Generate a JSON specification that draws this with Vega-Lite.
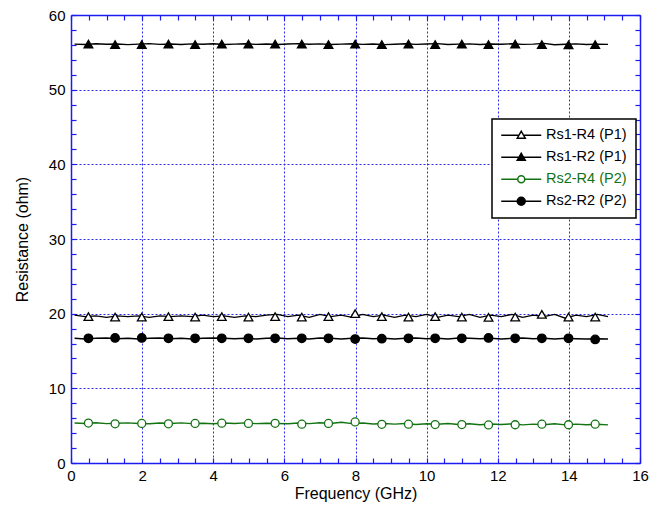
{
  "$schema": "https://vega.github.io/schema/vega-lite/v6.json",
  "width": 569,
  "height": 448,
  "autosize": {"type": "none"},
  "padding": {"left": 71, "top": 15, "right": 27, "bottom": 52},
  "background": "#ffffff",
  "config": {
    "view": {"stroke": null},
    "font": "Liberation Sans",
    "axis": {
      "labelFont": "Liberation Sans",
      "titleFont": "Liberation Sans",
      "labelFontSize": 15,
      "titleFontSize": 16,
      "titleFontWeight": "normal",
      "labelColor": "#000000",
      "titleColor": "#000000",
      "domainColor": "#1c1cf0",
      "domainWidth": 1.5,
      "tickColor": "#1c1cf0",
      "tickWidth": 1.2,
      "tickSize": -5,
      "labelFlush": false,
      "labelOverlap": false
    }
  },
  "datasets": {
    "lines": [
      {"series": "Rs1-R4 (P1)", "freq": 0.1, "res": 19.8},
      {"series": "Rs1-R4 (P1)", "freq": 0.4, "res": 19.6},
      {"series": "Rs1-R4 (P1)", "freq": 0.7, "res": 19.7},
      {"series": "Rs1-R4 (P1)", "freq": 1.0, "res": 19.5},
      {"series": "Rs1-R4 (P1)", "freq": 1.3, "res": 19.7},
      {"series": "Rs1-R4 (P1)", "freq": 1.6, "res": 19.6},
      {"series": "Rs1-R4 (P1)", "freq": 1.9, "res": 19.7},
      {"series": "Rs1-R4 (P1)", "freq": 2.2, "res": 19.5},
      {"series": "Rs1-R4 (P1)", "freq": 2.5, "res": 19.7},
      {"series": "Rs1-R4 (P1)", "freq": 2.8, "res": 19.6},
      {"series": "Rs1-R4 (P1)", "freq": 3.1, "res": 19.7},
      {"series": "Rs1-R4 (P1)", "freq": 3.4, "res": 19.6},
      {"series": "Rs1-R4 (P1)", "freq": 3.7, "res": 19.8},
      {"series": "Rs1-R4 (P1)", "freq": 4.0, "res": 19.6},
      {"series": "Rs1-R4 (P1)", "freq": 4.3, "res": 19.7},
      {"series": "Rs1-R4 (P1)", "freq": 4.6, "res": 19.5},
      {"series": "Rs1-R4 (P1)", "freq": 4.9, "res": 19.7},
      {"series": "Rs1-R4 (P1)", "freq": 5.2, "res": 19.6},
      {"series": "Rs1-R4 (P1)", "freq": 5.5, "res": 19.8},
      {"series": "Rs1-R4 (P1)", "freq": 5.8, "res": 19.9},
      {"series": "Rs1-R4 (P1)", "freq": 6.1, "res": 19.6},
      {"series": "Rs1-R4 (P1)", "freq": 6.4, "res": 19.8},
      {"series": "Rs1-R4 (P1)", "freq": 6.7, "res": 19.5},
      {"series": "Rs1-R4 (P1)", "freq": 7.0, "res": 19.9},
      {"series": "Rs1-R4 (P1)", "freq": 7.3, "res": 19.6},
      {"series": "Rs1-R4 (P1)", "freq": 7.6, "res": 19.8},
      {"series": "Rs1-R4 (P1)", "freq": 7.9, "res": 19.5},
      {"series": "Rs1-R4 (P1)", "freq": 8.2, "res": 19.9},
      {"series": "Rs1-R4 (P1)", "freq": 8.5, "res": 19.6},
      {"series": "Rs1-R4 (P1)", "freq": 8.8, "res": 19.8},
      {"series": "Rs1-R4 (P1)", "freq": 9.1, "res": 19.5},
      {"series": "Rs1-R4 (P1)", "freq": 9.4, "res": 19.8},
      {"series": "Rs1-R4 (P1)", "freq": 9.7, "res": 19.6},
      {"series": "Rs1-R4 (P1)", "freq": 10.0, "res": 19.9},
      {"series": "Rs1-R4 (P1)", "freq": 10.3, "res": 19.5},
      {"series": "Rs1-R4 (P1)", "freq": 10.6, "res": 19.8},
      {"series": "Rs1-R4 (P1)", "freq": 10.9, "res": 19.6},
      {"series": "Rs1-R4 (P1)", "freq": 11.2, "res": 19.9},
      {"series": "Rs1-R4 (P1)", "freq": 11.5, "res": 19.5},
      {"series": "Rs1-R4 (P1)", "freq": 11.8, "res": 19.8},
      {"series": "Rs1-R4 (P1)", "freq": 12.1, "res": 19.6},
      {"series": "Rs1-R4 (P1)", "freq": 12.4, "res": 19.9},
      {"series": "Rs1-R4 (P1)", "freq": 12.7, "res": 19.5},
      {"series": "Rs1-R4 (P1)", "freq": 13.0, "res": 19.8},
      {"series": "Rs1-R4 (P1)", "freq": 13.3, "res": 19.6},
      {"series": "Rs1-R4 (P1)", "freq": 13.6, "res": 19.9},
      {"series": "Rs1-R4 (P1)", "freq": 13.9, "res": 19.4},
      {"series": "Rs1-R4 (P1)", "freq": 14.2, "res": 19.8},
      {"series": "Rs1-R4 (P1)", "freq": 14.5, "res": 19.6},
      {"series": "Rs1-R4 (P1)", "freq": 14.8, "res": 19.9},
      {"series": "Rs1-R4 (P1)", "freq": 15.1, "res": 19.6},
      {"series": "Rs1-R2 (P1)", "freq": 0.1, "res": 56.1},
      {"series": "Rs1-R2 (P1)", "freq": 0.4, "res": 56.05},
      {"series": "Rs1-R2 (P1)", "freq": 0.7, "res": 56.15},
      {"series": "Rs1-R2 (P1)", "freq": 1.0, "res": 56.08},
      {"series": "Rs1-R2 (P1)", "freq": 1.3, "res": 56.12},
      {"series": "Rs1-R2 (P1)", "freq": 1.6, "res": 56.03},
      {"series": "Rs1-R2 (P1)", "freq": 1.9, "res": 56.1},
      {"series": "Rs1-R2 (P1)", "freq": 2.2, "res": 56.16},
      {"series": "Rs1-R2 (P1)", "freq": 2.5, "res": 56.06},
      {"series": "Rs1-R2 (P1)", "freq": 2.8, "res": 56.11},
      {"series": "Rs1-R2 (P1)", "freq": 3.1, "res": 56.04},
      {"series": "Rs1-R2 (P1)", "freq": 3.4, "res": 56.13},
      {"series": "Rs1-R2 (P1)", "freq": 3.7, "res": 56.09},
      {"series": "Rs1-R2 (P1)", "freq": 4.0, "res": 56.15},
      {"series": "Rs1-R2 (P1)", "freq": 4.3, "res": 56.05},
      {"series": "Rs1-R2 (P1)", "freq": 4.6, "res": 56.1},
      {"series": "Rs1-R2 (P1)", "freq": 4.9, "res": 56.14},
      {"series": "Rs1-R2 (P1)", "freq": 5.2, "res": 56.07},
      {"series": "Rs1-R2 (P1)", "freq": 5.5, "res": 56.12},
      {"series": "Rs1-R2 (P1)", "freq": 5.8, "res": 56.04},
      {"series": "Rs1-R2 (P1)", "freq": 6.1, "res": 56.11},
      {"series": "Rs1-R2 (P1)", "freq": 6.4, "res": 56.16},
      {"series": "Rs1-R2 (P1)", "freq": 6.7, "res": 56.08},
      {"series": "Rs1-R2 (P1)", "freq": 7.0, "res": 56.13},
      {"series": "Rs1-R2 (P1)", "freq": 7.3, "res": 56.05},
      {"series": "Rs1-R2 (P1)", "freq": 7.6, "res": 56.1},
      {"series": "Rs1-R2 (P1)", "freq": 7.9, "res": 56.15},
      {"series": "Rs1-R2 (P1)", "freq": 8.2, "res": 56.07},
      {"series": "Rs1-R2 (P1)", "freq": 8.5, "res": 56.12},
      {"series": "Rs1-R2 (P1)", "freq": 8.8, "res": 56.03},
      {"series": "Rs1-R2 (P1)", "freq": 9.1, "res": 56.09},
      {"series": "Rs1-R2 (P1)", "freq": 9.4, "res": 56.14},
      {"series": "Rs1-R2 (P1)", "freq": 9.7, "res": 56.06},
      {"series": "Rs1-R2 (P1)", "freq": 10.0, "res": 56.11},
      {"series": "Rs1-R2 (P1)", "freq": 10.3, "res": 56.17},
      {"series": "Rs1-R2 (P1)", "freq": 10.6, "res": 56.05},
      {"series": "Rs1-R2 (P1)", "freq": 10.9, "res": 56.1},
      {"series": "Rs1-R2 (P1)", "freq": 11.2, "res": 56.13},
      {"series": "Rs1-R2 (P1)", "freq": 11.5, "res": 56.04},
      {"series": "Rs1-R2 (P1)", "freq": 11.8, "res": 56.12},
      {"series": "Rs1-R2 (P1)", "freq": 12.1, "res": 56.08},
      {"series": "Rs1-R2 (P1)", "freq": 12.4, "res": 56.15},
      {"series": "Rs1-R2 (P1)", "freq": 12.7, "res": 56.06},
      {"series": "Rs1-R2 (P1)", "freq": 13.0, "res": 56.1},
      {"series": "Rs1-R2 (P1)", "freq": 13.3, "res": 56.2},
      {"series": "Rs1-R2 (P1)", "freq": 13.6, "res": 56.02},
      {"series": "Rs1-R2 (P1)", "freq": 13.9, "res": 56.08},
      {"series": "Rs1-R2 (P1)", "freq": 14.2, "res": 56.13},
      {"series": "Rs1-R2 (P1)", "freq": 14.5, "res": 56.05},
      {"series": "Rs1-R2 (P1)", "freq": 14.8, "res": 56.1},
      {"series": "Rs1-R2 (P1)", "freq": 15.1, "res": 56.06},
      {"series": "Rs2-R4 (P2)", "freq": 0.1, "res": 5.35},
      {"series": "Rs2-R4 (P2)", "freq": 0.4, "res": 5.3},
      {"series": "Rs2-R4 (P2)", "freq": 0.7, "res": 5.4},
      {"series": "Rs2-R4 (P2)", "freq": 1.0, "res": 5.28},
      {"series": "Rs2-R4 (P2)", "freq": 1.3, "res": 5.33},
      {"series": "Rs2-R4 (P2)", "freq": 1.6, "res": 5.38},
      {"series": "Rs2-R4 (P2)", "freq": 1.9, "res": 5.3},
      {"series": "Rs2-R4 (P2)", "freq": 2.2, "res": 5.25},
      {"series": "Rs2-R4 (P2)", "freq": 2.5, "res": 5.35},
      {"series": "Rs2-R4 (P2)", "freq": 2.8, "res": 5.3},
      {"series": "Rs2-R4 (P2)", "freq": 3.1, "res": 5.38},
      {"series": "Rs2-R4 (P2)", "freq": 3.4, "res": 5.28},
      {"series": "Rs2-R4 (P2)", "freq": 3.7, "res": 5.33},
      {"series": "Rs2-R4 (P2)", "freq": 4.0, "res": 5.25},
      {"series": "Rs2-R4 (P2)", "freq": 4.3, "res": 5.35},
      {"series": "Rs2-R4 (P2)", "freq": 4.6, "res": 5.3},
      {"series": "Rs2-R4 (P2)", "freq": 4.9, "res": 5.38},
      {"series": "Rs2-R4 (P2)", "freq": 5.2, "res": 5.27},
      {"series": "Rs2-R4 (P2)", "freq": 5.5, "res": 5.33},
      {"series": "Rs2-R4 (P2)", "freq": 5.8, "res": 5.3},
      {"series": "Rs2-R4 (P2)", "freq": 6.1, "res": 5.25},
      {"series": "Rs2-R4 (P2)", "freq": 6.4, "res": 5.35},
      {"series": "Rs2-R4 (P2)", "freq": 6.7, "res": 5.28},
      {"series": "Rs2-R4 (P2)", "freq": 7.0, "res": 5.4},
      {"series": "Rs2-R4 (P2)", "freq": 7.3, "res": 5.3},
      {"series": "Rs2-R4 (P2)", "freq": 7.6, "res": 5.45},
      {"series": "Rs2-R4 (P2)", "freq": 7.9, "res": 5.28},
      {"series": "Rs2-R4 (P2)", "freq": 8.2, "res": 5.35},
      {"series": "Rs2-R4 (P2)", "freq": 8.5, "res": 5.22},
      {"series": "Rs2-R4 (P2)", "freq": 8.8, "res": 5.3},
      {"series": "Rs2-R4 (P2)", "freq": 9.1, "res": 5.2},
      {"series": "Rs2-R4 (P2)", "freq": 9.4, "res": 5.3},
      {"series": "Rs2-R4 (P2)", "freq": 9.7, "res": 5.15},
      {"series": "Rs2-R4 (P2)", "freq": 10.0, "res": 5.25},
      {"series": "Rs2-R4 (P2)", "freq": 10.3, "res": 5.18},
      {"series": "Rs2-R4 (P2)", "freq": 10.6, "res": 5.28},
      {"series": "Rs2-R4 (P2)", "freq": 10.9, "res": 5.15},
      {"series": "Rs2-R4 (P2)", "freq": 11.2, "res": 5.25},
      {"series": "Rs2-R4 (P2)", "freq": 11.5, "res": 5.12},
      {"series": "Rs2-R4 (P2)", "freq": 11.8, "res": 5.22},
      {"series": "Rs2-R4 (P2)", "freq": 12.1, "res": 5.15},
      {"series": "Rs2-R4 (P2)", "freq": 12.4, "res": 5.25},
      {"series": "Rs2-R4 (P2)", "freq": 12.7, "res": 5.1},
      {"series": "Rs2-R4 (P2)", "freq": 13.0, "res": 5.2},
      {"series": "Rs2-R4 (P2)", "freq": 13.3, "res": 5.12},
      {"series": "Rs2-R4 (P2)", "freq": 13.6, "res": 5.25},
      {"series": "Rs2-R4 (P2)", "freq": 13.9, "res": 5.1},
      {"series": "Rs2-R4 (P2)", "freq": 14.2, "res": 5.2},
      {"series": "Rs2-R4 (P2)", "freq": 14.5, "res": 5.12},
      {"series": "Rs2-R4 (P2)", "freq": 14.8, "res": 5.18},
      {"series": "Rs2-R4 (P2)", "freq": 15.1, "res": 5.1},
      {"series": "Rs2-R2 (P2)", "freq": 0.1, "res": 16.7},
      {"series": "Rs2-R2 (P2)", "freq": 0.4, "res": 16.6},
      {"series": "Rs2-R2 (P2)", "freq": 0.7, "res": 16.7},
      {"series": "Rs2-R2 (P2)", "freq": 1.0, "res": 16.75},
      {"series": "Rs2-R2 (P2)", "freq": 1.3, "res": 16.65},
      {"series": "Rs2-R2 (P2)", "freq": 1.6, "res": 16.7},
      {"series": "Rs2-R2 (P2)", "freq": 1.9, "res": 16.6},
      {"series": "Rs2-R2 (P2)", "freq": 2.2, "res": 16.7},
      {"series": "Rs2-R2 (P2)", "freq": 2.5, "res": 16.75},
      {"series": "Rs2-R2 (P2)", "freq": 2.8, "res": 16.65},
      {"series": "Rs2-R2 (P2)", "freq": 3.1, "res": 16.7},
      {"series": "Rs2-R2 (P2)", "freq": 3.4, "res": 16.6},
      {"series": "Rs2-R2 (P2)", "freq": 3.7, "res": 16.7},
      {"series": "Rs2-R2 (P2)", "freq": 4.0, "res": 16.75},
      {"series": "Rs2-R2 (P2)", "freq": 4.3, "res": 16.7},
      {"series": "Rs2-R2 (P2)", "freq": 4.6, "res": 16.65},
      {"series": "Rs2-R2 (P2)", "freq": 4.9, "res": 16.7},
      {"series": "Rs2-R2 (P2)", "freq": 5.2, "res": 16.6},
      {"series": "Rs2-R2 (P2)", "freq": 5.5, "res": 16.7},
      {"series": "Rs2-R2 (P2)", "freq": 5.8, "res": 16.75},
      {"series": "Rs2-R2 (P2)", "freq": 6.1, "res": 16.65},
      {"series": "Rs2-R2 (P2)", "freq": 6.4, "res": 16.7},
      {"series": "Rs2-R2 (P2)", "freq": 6.7, "res": 16.6},
      {"series": "Rs2-R2 (P2)", "freq": 7.0, "res": 16.75},
      {"series": "Rs2-R2 (P2)", "freq": 7.3, "res": 16.7},
      {"series": "Rs2-R2 (P2)", "freq": 7.6, "res": 16.6},
      {"series": "Rs2-R2 (P2)", "freq": 7.9, "res": 16.7},
      {"series": "Rs2-R2 (P2)", "freq": 8.2, "res": 16.75},
      {"series": "Rs2-R2 (P2)", "freq": 8.5, "res": 16.65},
      {"series": "Rs2-R2 (P2)", "freq": 8.8, "res": 16.7},
      {"series": "Rs2-R2 (P2)", "freq": 9.1, "res": 16.6},
      {"series": "Rs2-R2 (P2)", "freq": 9.4, "res": 16.7},
      {"series": "Rs2-R2 (P2)", "freq": 9.7, "res": 16.75},
      {"series": "Rs2-R2 (P2)", "freq": 10.0, "res": 16.65},
      {"series": "Rs2-R2 (P2)", "freq": 10.3, "res": 16.7},
      {"series": "Rs2-R2 (P2)", "freq": 10.6, "res": 16.6},
      {"series": "Rs2-R2 (P2)", "freq": 10.9, "res": 16.75},
      {"series": "Rs2-R2 (P2)", "freq": 11.2, "res": 16.7},
      {"series": "Rs2-R2 (P2)", "freq": 11.5, "res": 16.65},
      {"series": "Rs2-R2 (P2)", "freq": 11.8, "res": 16.7},
      {"series": "Rs2-R2 (P2)", "freq": 12.1, "res": 16.6},
      {"series": "Rs2-R2 (P2)", "freq": 12.4, "res": 16.7},
      {"series": "Rs2-R2 (P2)", "freq": 12.7, "res": 16.75},
      {"series": "Rs2-R2 (P2)", "freq": 13.0, "res": 16.65},
      {"series": "Rs2-R2 (P2)", "freq": 13.3, "res": 16.7},
      {"series": "Rs2-R2 (P2)", "freq": 13.6, "res": 16.6},
      {"series": "Rs2-R2 (P2)", "freq": 13.9, "res": 16.7},
      {"series": "Rs2-R2 (P2)", "freq": 14.2, "res": 16.65},
      {"series": "Rs2-R2 (P2)", "freq": 14.5, "res": 16.6},
      {"series": "Rs2-R2 (P2)", "freq": 14.8, "res": 16.65},
      {"series": "Rs2-R2 (P2)", "freq": 15.1, "res": 16.6}
    ],
    "markers": [
      {"series": "Rs1-R4 (P1)", "freq": 0.49, "res": 19.6},
      {"series": "Rs1-R4 (P1)", "freq": 1.24, "res": 19.55},
      {"series": "Rs1-R4 (P1)", "freq": 1.99, "res": 19.55},
      {"series": "Rs1-R4 (P1)", "freq": 2.74, "res": 19.6},
      {"series": "Rs1-R4 (P1)", "freq": 3.49, "res": 19.55},
      {"series": "Rs1-R4 (P1)", "freq": 4.24, "res": 19.6},
      {"series": "Rs1-R4 (P1)", "freq": 4.99, "res": 19.55},
      {"series": "Rs1-R4 (P1)", "freq": 5.74, "res": 19.6},
      {"series": "Rs1-R4 (P1)", "freq": 6.49, "res": 19.55},
      {"series": "Rs1-R4 (P1)", "freq": 7.24, "res": 19.6},
      {"series": "Rs1-R4 (P1)", "freq": 7.99, "res": 20.0},
      {"series": "Rs1-R4 (P1)", "freq": 8.74, "res": 19.6},
      {"series": "Rs1-R4 (P1)", "freq": 9.49, "res": 19.55},
      {"series": "Rs1-R4 (P1)", "freq": 10.24, "res": 19.6},
      {"series": "Rs1-R4 (P1)", "freq": 10.99, "res": 19.55},
      {"series": "Rs1-R4 (P1)", "freq": 11.74, "res": 19.5},
      {"series": "Rs1-R4 (P1)", "freq": 12.49, "res": 19.55},
      {"series": "Rs1-R4 (P1)", "freq": 13.24, "res": 19.9},
      {"series": "Rs1-R4 (P1)", "freq": 13.99, "res": 19.55},
      {"series": "Rs1-R4 (P1)", "freq": 14.74, "res": 19.55},
      {"series": "Rs1-R2 (P1)", "freq": 0.49, "res": 56.1},
      {"series": "Rs1-R2 (P1)", "freq": 1.24, "res": 56.05},
      {"series": "Rs1-R2 (P1)", "freq": 1.99, "res": 56.05},
      {"series": "Rs1-R2 (P1)", "freq": 2.74, "res": 56.1},
      {"series": "Rs1-R2 (P1)", "freq": 3.49, "res": 56.05},
      {"series": "Rs1-R2 (P1)", "freq": 4.24, "res": 56.1},
      {"series": "Rs1-R2 (P1)", "freq": 4.99, "res": 56.1},
      {"series": "Rs1-R2 (P1)", "freq": 5.74, "res": 56.1},
      {"series": "Rs1-R2 (P1)", "freq": 6.49, "res": 56.1},
      {"series": "Rs1-R2 (P1)", "freq": 7.24, "res": 56.05},
      {"series": "Rs1-R2 (P1)", "freq": 7.99, "res": 56.1},
      {"series": "Rs1-R2 (P1)", "freq": 8.74, "res": 56.05},
      {"series": "Rs1-R2 (P1)", "freq": 9.49, "res": 56.1},
      {"series": "Rs1-R2 (P1)", "freq": 10.24, "res": 56.05},
      {"series": "Rs1-R2 (P1)", "freq": 10.99, "res": 56.1},
      {"series": "Rs1-R2 (P1)", "freq": 11.74, "res": 56.05},
      {"series": "Rs1-R2 (P1)", "freq": 12.49, "res": 56.1},
      {"series": "Rs1-R2 (P1)", "freq": 13.24, "res": 56.05},
      {"series": "Rs1-R2 (P1)", "freq": 13.99, "res": 56.0},
      {"series": "Rs1-R2 (P1)", "freq": 14.74, "res": 56.05},
      {"series": "Rs2-R4 (P2)", "freq": 0.49, "res": 5.35},
      {"series": "Rs2-R4 (P2)", "freq": 1.24, "res": 5.25},
      {"series": "Rs2-R4 (P2)", "freq": 1.99, "res": 5.3},
      {"series": "Rs2-R4 (P2)", "freq": 2.74, "res": 5.25},
      {"series": "Rs2-R4 (P2)", "freq": 3.49, "res": 5.3},
      {"series": "Rs2-R4 (P2)", "freq": 4.24, "res": 5.33},
      {"series": "Rs2-R4 (P2)", "freq": 4.99, "res": 5.3},
      {"series": "Rs2-R4 (P2)", "freq": 5.74, "res": 5.32},
      {"series": "Rs2-R4 (P2)", "freq": 6.49, "res": 5.2},
      {"series": "Rs2-R4 (P2)", "freq": 7.24, "res": 5.3},
      {"series": "Rs2-R4 (P2)", "freq": 7.99, "res": 5.5},
      {"series": "Rs2-R4 (P2)", "freq": 8.74, "res": 5.18},
      {"series": "Rs2-R4 (P2)", "freq": 9.49, "res": 5.2},
      {"series": "Rs2-R4 (P2)", "freq": 10.24, "res": 5.15},
      {"series": "Rs2-R4 (P2)", "freq": 10.99, "res": 5.15},
      {"series": "Rs2-R4 (P2)", "freq": 11.74, "res": 5.1},
      {"series": "Rs2-R4 (P2)", "freq": 12.49, "res": 5.12},
      {"series": "Rs2-R4 (P2)", "freq": 13.24, "res": 5.2},
      {"series": "Rs2-R4 (P2)", "freq": 13.99, "res": 5.12},
      {"series": "Rs2-R4 (P2)", "freq": 14.74, "res": 5.2},
      {"series": "Rs2-R2 (P2)", "freq": 0.49, "res": 16.7},
      {"series": "Rs2-R2 (P2)", "freq": 1.24, "res": 16.75},
      {"series": "Rs2-R2 (P2)", "freq": 1.99, "res": 16.75},
      {"series": "Rs2-R2 (P2)", "freq": 2.74, "res": 16.7},
      {"series": "Rs2-R2 (P2)", "freq": 3.49, "res": 16.7},
      {"series": "Rs2-R2 (P2)", "freq": 4.24, "res": 16.7},
      {"series": "Rs2-R2 (P2)", "freq": 4.99, "res": 16.7},
      {"series": "Rs2-R2 (P2)", "freq": 5.74, "res": 16.7},
      {"series": "Rs2-R2 (P2)", "freq": 6.49, "res": 16.7},
      {"series": "Rs2-R2 (P2)", "freq": 7.24, "res": 16.7},
      {"series": "Rs2-R2 (P2)", "freq": 7.99, "res": 16.6},
      {"series": "Rs2-R2 (P2)", "freq": 8.74, "res": 16.65},
      {"series": "Rs2-R2 (P2)", "freq": 9.49, "res": 16.7},
      {"series": "Rs2-R2 (P2)", "freq": 10.24, "res": 16.7},
      {"series": "Rs2-R2 (P2)", "freq": 10.99, "res": 16.7},
      {"series": "Rs2-R2 (P2)", "freq": 11.74, "res": 16.75},
      {"series": "Rs2-R2 (P2)", "freq": 12.49, "res": 16.7},
      {"series": "Rs2-R2 (P2)", "freq": 13.24, "res": 16.7},
      {"series": "Rs2-R2 (P2)", "freq": 13.99, "res": 16.7},
      {"series": "Rs2-R2 (P2)", "freq": 14.74, "res": 16.55}
    ]
  },
  "resolve": {"axis": {"x": "independent", "y": "independent"}},
  "layer": [
    {
      "data": {"name": "lines"},
      "mark": {"type": "line", "strokeWidth": 1.4},
      "encoding": {
        "x": {
          "field": "freq", "type": "quantitative",
          "scale": {"domain": [0, 16], "nice": false, "zero": false},
          "axis": {
            "orient": "bottom",
            "title": "Frequency (GHz)",
            "values": [0,0.5,1,1.5,2,2.5,3,3.5,4,4.5,5,5.5,6,6.5,7,7.5,8,8.5,9,9.5,10,10.5,11,11.5,12,12.5,13,13.5,14,14.5,15,15.5,16],
            "labelExpr": "datum.value % 2 === 0 ? format(datum.value, 'd') : ''",
            "labelPadding": 10,
            "titlePadding": 2,
            "grid": true,
            "gridColor": "#2a2af0",
            "gridDash": [2, 2],
            "gridWidth": 1,
            "gridOpacity": {"condition": {"test": "datum.value % 2 === 0 && datum.value > 0 && datum.value < 16", "value": 1}, "value": 0}
          }
        },
        "y": {
          "field": "res", "type": "quantitative",
          "scale": {"domain": [0, 60], "nice": false, "zero": false},
          "axis": {
            "orient": "left",
            "title": "Resistance (ohm)",
            "values": [0,2,4,6,8,10,12,14,16,18,20,22,24,26,28,30,32,34,36,38,40,42,44,46,48,50,52,54,56,58,60],
            "labelExpr": "datum.value % 10 === 0 ? format(datum.value, 'd') : ''",
            "labelPadding": 11,
            "titlePadding": 18,
            "grid": true,
            "gridColor": "#2a2af0",
            "gridDash": [2, 2],
            "gridWidth": 1,
            "gridOpacity": {"condition": {"test": "datum.value % 10 === 0 && datum.value > 0 && datum.value < 60", "value": 1}, "value": 0}
          }
        },
        "color": {
          "field": "series", "type": "nominal",
          "scale": {"domain": ["Rs1-R4 (P1)", "Rs1-R2 (P1)", "Rs2-R4 (P2)", "Rs2-R2 (P2)"], "range": ["#000000", "#000000", "#137313", "#000000"]},
          "legend": {
            "orient": "none", "legendX": 421, "legendY": 104, "title": null,
            "padding": 9, "rowPadding": 7, "symbolOffset": 13, "labelOffset": 17.5,
            "labelFont": "Liberation Sans", "labelFontSize": 14.5, "labelColor": "#000000",
            "strokeColor": "#000000", "fillColor": "#ffffff",
            "symbolSize": 100, "symbolStrokeWidth": 1.5,
            "encode": {
              "legend": {"update": {"strokeWidth": {"value": 1.5}}},
              "symbols": {
                "update": {
                  "size": {"value": 100},
                  "strokeWidth": {"value": 1.5},
                  "fill": {"signal": "datum.value === 'Rs1-R2 (P1)' || datum.value === 'Rs2-R2 (P2)' ? '#000000' : '#ffffff'"},
                  "shape": {"signal": "datum.value === 'Rs1-R4 (P1)' ? 'M-4,0L-0.46,0M0.46,0L4,0M0,-0.8L0.8,0.6L-0.8,0.6Z' : datum.value === 'Rs1-R2 (P1)' ? 'M-4,0L4,0M0,-0.8L0.8,0.6L-0.8,0.6Z' : datum.value === 'Rs2-R4 (P2)' ? 'M-4,0L-0.7,0M0.7,0L4,0M0.7,0A0.7,0.7,0,1,1,-0.7,0A0.7,0.7,0,1,1,0.7,0Z' : 'M-4,0L4,0M0.8,0A0.8,0.8,0,1,1,-0.8,0A0.8,0.8,0,1,1,0.8,0Z'"}
                }
              },
              "labels": {
                "update": {
                  "fill": {"signal": "datum.value === 'Rs2-R4 (P2)' ? '#137313' : '#000000'"}
                }
              }
            }
          }
        },
        "detail": {"field": "series"}
      }
    },
    {
      "data": {"name": "markers"},
      "transform": [{"filter": "datum.series === 'Rs1-R4 (P1)'"}],
      "mark": {"type": "point", "shape": "triangle-up", "filled": false, "fill": "#ffffff", "fillOpacity": 1, "stroke": "#000000", "size": 76, "strokeWidth": 1.3, "opacity": 1},
      "encoding": {
        "x": {
          "field": "freq", "type": "quantitative",
          "axis": {
            "orient": "top", "title": null, "labels": false, "grid": false,
            "values": [0,0.5,1,1.5,2,2.5,3,3.5,4,4.5,5,5.5,6,6.5,7,7.5,8,8.5,9,9.5,10,10.5,11,11.5,12,12.5,13,13.5,14,14.5,15,15.5,16]
          }
        },
        "y": {
          "field": "res", "type": "quantitative",
          "axis": {
            "orient": "right", "title": null, "labels": false, "grid": false,
            "values": [0,2,4,6,8,10,12,14,16,18,20,22,24,26,28,30,32,34,36,38,40,42,44,46,48,50,52,54,56,58,60]
          }
        }
      }
    },
    {
      "data": {"name": "markers"},
      "transform": [{"filter": "datum.series === 'Rs1-R2 (P1)'"}],
      "mark": {"type": "point", "shape": "triangle-up", "filled": true, "fill": "#000000", "stroke": "#000000", "size": 76, "strokeWidth": 1.3, "opacity": 1},
      "encoding": {
        "x": {"field": "freq", "type": "quantitative", "axis": null},
        "y": {"field": "res", "type": "quantitative", "axis": null}
      }
    },
    {
      "data": {"name": "markers"},
      "transform": [{"filter": "datum.series === 'Rs2-R4 (P2)'"}],
      "mark": {"type": "point", "shape": "circle", "filled": false, "fill": "#ffffff", "fillOpacity": 1, "stroke": "#137313", "size": 64, "strokeWidth": 1.3, "opacity": 1},
      "encoding": {
        "x": {"field": "freq", "type": "quantitative", "axis": null},
        "y": {"field": "res", "type": "quantitative", "axis": null}
      }
    },
    {
      "data": {"name": "markers"},
      "transform": [{"filter": "datum.series === 'Rs2-R2 (P2)'"}],
      "mark": {"type": "point", "shape": "circle", "filled": true, "fill": "#000000", "stroke": "#000000", "size": 72, "strokeWidth": 1.3, "opacity": 1},
      "encoding": {
        "x": {"field": "freq", "type": "quantitative", "axis": null},
        "y": {"field": "res", "type": "quantitative", "axis": null}
      }
    }
  ]
}
